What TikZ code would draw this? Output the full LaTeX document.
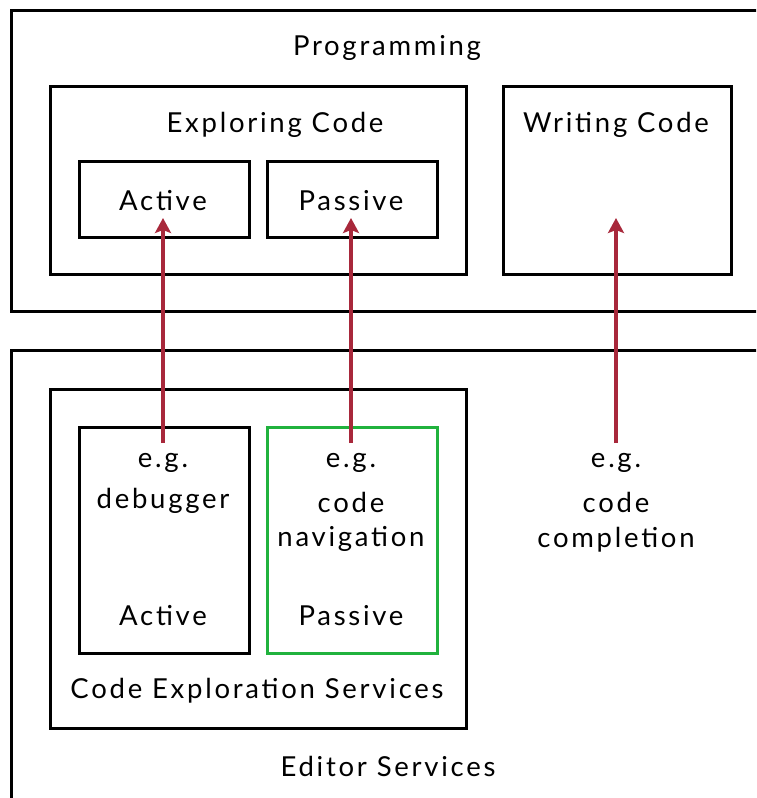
\documentclass[tikz,border=0pt]{standalone}
\usepackage{fontspec}
\setmainfont{Lato}[LetterSpace=10]
\usetikzlibrary{arrows.meta}
\definecolor{linkred}{HTML}{A8283B}
\definecolor{navgreen}{HTML}{20B23D}
\tikzset{
  frame/.style={draw=black, line width=3pt},
  box/.style={frame, rectangle, anchor=north west, inner sep=0pt},
  greenbox/.style={box, draw=navgreen},
  lbl/.style={anchor=base, inner sep=0pt, font=\fontsize{27.5}{31}\selectfont},
  link/.style={draw=linkred, line width=4pt, -{Stealth[length=15pt,width=16pt,inset=3pt]}},
}
\begin{document}
\begin{tikzpicture}[x=1pt,y=-1pt]
\useasboundingbox (0,0) rectangle (756,798);

% open outer frames that run off the right and bottom edges
\begin{scope}
  \clip (0,0) rectangle (756,798);
  \draw[frame] (770,10) -- (11,10) -- (11,311) -- (770,311);
  \draw[frame] (770,350) -- (11,350) -- (11,810);
\end{scope}

% programming side
\node[box, minimum width=416pt, minimum height=188pt] (expl) at (49,85) {};
\node[box, minimum width=170pt, minimum height=76pt] (actT) at (78,160) {};
\node[box, minimum width=170pt, minimum height=76pt] (pasT) at (266,160) {};
\node[box, minimum width=228pt, minimum height=188pt] (writ) at (502,85) {};

% editor services side
\node[box, minimum width=416pt, minimum height=339pt] (ces) at (49,388) {};
\node[box, minimum width=170pt, minimum height=226pt] (actB) at (78,426) {};
\node[greenbox, minimum width=170pt, minimum height=226pt] (pasB) at (266,426) {};

% labels
\node[lbl] (lprog) at (387,55) {Programming};
\node[lbl] (lexpl) at (275,132) {Exploring Code};
\node[lbl] (lwrit) at (616,132) {Writing Code};
\node[lbl] (lactT) at (163,210) {Active};
\node[lbl] (lpasT) at (351,210) {Passive};

\node[lbl] (eg1) at (163,467) {e.g.};
\node[lbl] (dbg) at (163,508) {debugger};
\node[lbl] (lactB) at (163,625) {Active};

\node[lbl] (eg2) at (351,467) {e.g.};
\node[lbl] (nav1) at (351,512) {code};
\node[lbl] (nav2) at (351,546) {navigation};
\node[lbl] (lpasB) at (351,625) {Passive};

\node[lbl] (eg3) at (616,467) {e.g.};
\node[lbl] (cmp1) at (616,512) {code};
\node[lbl] (cmp2) at (616,547) {completion};

\node[lbl] (lces) at (257,698) {Code Exploration Services};
\node[lbl] (ledit) at (388,776) {Editor Services};

% arrow tips and tails
\coordinate (tipA) at (163,218);
\coordinate (tipP) at (351,218);
\coordinate (tipW) at (616,218);
\coordinate (srcA) at (163,443);
\coordinate (srcP) at (351,443);
\coordinate (srcW) at (616,443);

\draw[link] (srcA) -- (tipA);
\draw[link] (srcP) -- (tipP);
\draw[link] (srcW) -- (tipW);
\end{tikzpicture}
\end{document}
